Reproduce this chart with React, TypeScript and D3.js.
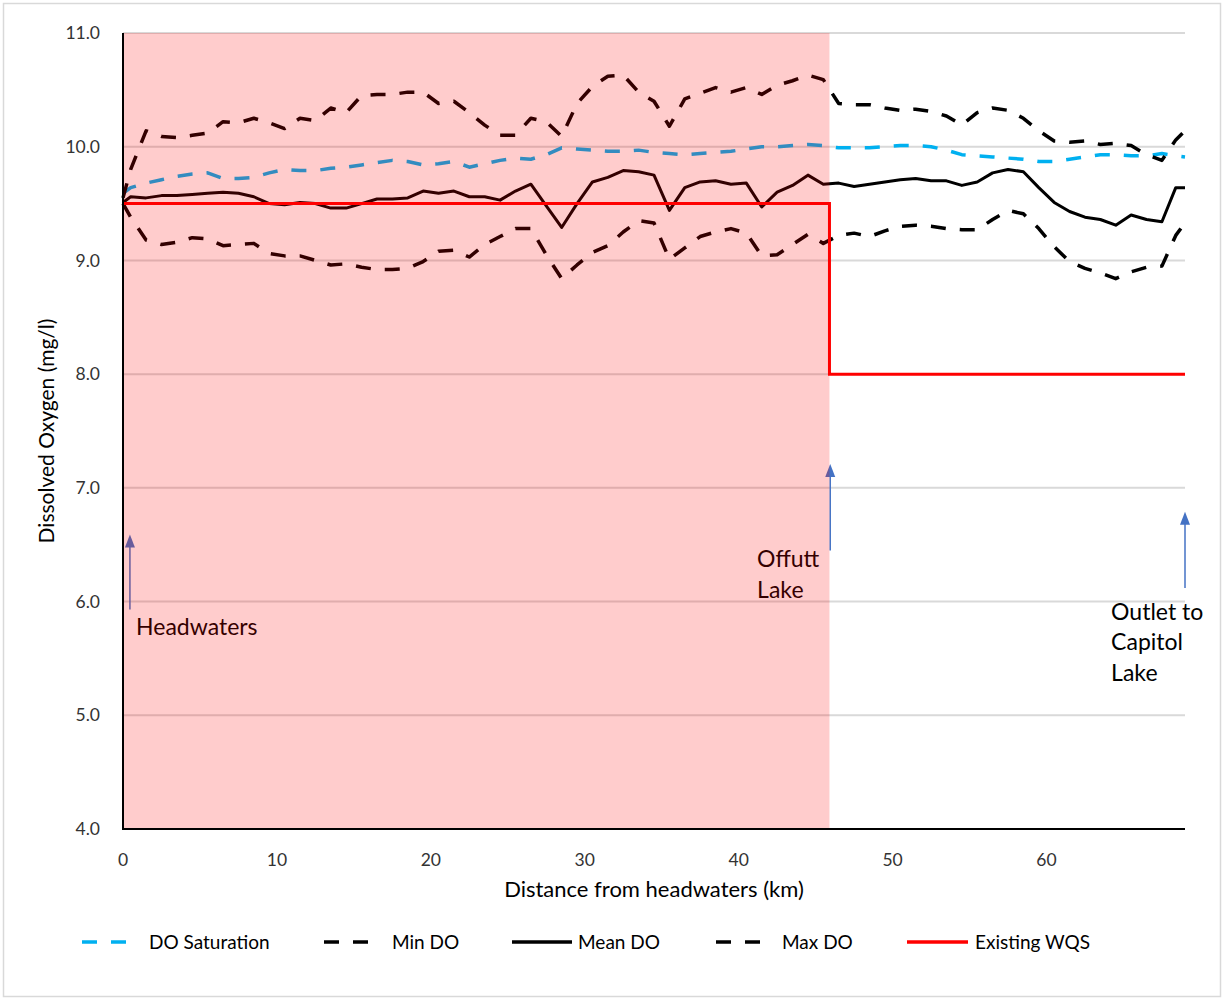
import React from 'react';
import * as d3 from 'd3';

// Distance downstream from the headwaters (km) at each sampling node
const distanceKm = [
  0, 0.5, 1.5, 2.5, 3.5, 4.5, 5.5, 6.5, 7.5, 8.5,
  9.5, 10.5, 11.5, 12.5, 13.5, 14.5, 15.5, 16.5, 17.5, 18.5,
  19.5, 20.5, 21.5, 22.5, 23.5, 24.5, 25.5, 26.5, 27.5, 28.5,
  29.5, 30.5, 31.5, 32.5, 33.5, 34.5, 35.5, 36.5, 37.5, 38.5,
  39.5, 40.5, 41.5, 42.5, 43.5, 44.5, 45.5, 46.5, 47.5, 48.5,
  49.5, 50.5, 51.5, 52.5, 53.5, 54.5, 55.5, 56.5, 57.5, 58.5,
  59.5, 60.5, 61.5, 62.5, 63.5, 64.5, 65.5, 66.5, 67.5,
  68.4, 69,
];

// Dissolved oxygen (mg/l)
const doSaturation = [
  9.59, 9.64, 9.68, 9.71, 9.74, 9.76, 9.77, 9.72, 9.72, 9.73,
  9.77, 9.80, 9.79, 9.79, 9.81, 9.82, 9.84, 9.86, 9.88, 9.87,
  9.84, 9.85, 9.87, 9.82, 9.85, 9.88, 9.90, 9.89, 9.93, 9.99,
  9.98, 9.97, 9.96, 9.96, 9.97, 9.95, 9.94, 9.93, 9.94, 9.95,
  9.96, 9.98, 10.0, 10.0, 10.01, 10.02, 10.01, 9.99, 9.99, 9.99,
  10.0, 10.01, 10.01, 10.0, 9.97, 9.93, 9.92, 9.91, 9.90, 9.89,
  9.87, 9.87, 9.89, 9.91, 9.93, 9.93, 9.92, 9.92, 9.94,
  9.92, 9.91,
];

const minDO = [
  9.50, 9.38, 9.18, 9.14, 9.16, 9.20, 9.19, 9.13, 9.14, 9.15,
  9.06, 9.04, 9.04, 9.00, 8.96, 8.97, 8.94, 8.92, 8.92, 8.93,
  8.99, 9.08, 9.09, 9.03, 9.14, 9.21, 9.28, 9.28, 9.05, 8.84,
  8.96, 9.07, 9.13, 9.25, 9.35, 9.33, 9.01, 9.11, 9.21, 9.25,
  9.28, 9.24, 9.04, 9.05, 9.14, 9.23, 9.15, 9.22, 9.24, 9.21,
  9.26, 9.30, 9.31, 9.30, 9.28, 9.27, 9.27, 9.36, 9.44, 9.41,
  9.28, 9.12, 8.99, 8.93, 8.89, 8.84, 8.90, 8.94, 8.95,
  9.22, 9.33,
];

const meanDO = [
  9.51, 9.56, 9.55, 9.57, 9.57, 9.58, 9.59, 9.60, 9.59, 9.56,
  9.50, 9.49, 9.51, 9.50, 9.46, 9.46, 9.50, 9.54, 9.54, 9.55,
  9.61, 9.59, 9.61, 9.56, 9.56, 9.53, 9.61, 9.67, 9.48, 9.29,
  9.50, 9.69, 9.73, 9.79, 9.78, 9.75, 9.44, 9.64, 9.69, 9.70,
  9.67, 9.68, 9.47, 9.60, 9.66, 9.75, 9.67, 9.68, 9.65, 9.67,
  9.69, 9.71, 9.72, 9.70, 9.70, 9.66, 9.69, 9.77, 9.80, 9.78,
  9.64, 9.51, 9.43, 9.38, 9.36, 9.31, 9.40, 9.36, 9.34,
  9.64, 9.64,
];

const maxDO = [
  9.55, 9.80, 10.14, 10.09, 10.08, 10.10, 10.12, 10.22, 10.21, 10.25,
  10.21, 10.16, 10.25, 10.23, 10.34, 10.30, 10.45, 10.46, 10.46, 10.48,
  10.48, 10.38, 10.40, 10.30, 10.19, 10.10, 10.10, 10.25, 10.22, 10.09,
  10.38, 10.53, 10.62, 10.63, 10.48, 10.40, 10.18, 10.42, 10.47, 10.52,
  10.48, 10.52, 10.46, 10.54, 10.58, 10.63, 10.59, 10.38, 10.37, 10.37,
  10.34, 10.32, 10.33, 10.31, 10.27, 10.19, 10.30, 10.34, 10.32, 10.25,
  10.14, 10.05, 10.04, 10.05, 10.02, 10.03, 10.01, 9.93, 9.88,
  10.06, 10.14,
];

// Existing water quality standard (step at Offutt Lake)
const wqsDistanceKm = [0, 45.9, 45.9, 69];
const wqsValue = [9.5, 9.5, 8.0, 8.0];

const offuttKm = 45.9;
const xMaxKm = 69;
const xTicks = [0, 10, 20, 30, 40, 50, 60];
const yTicks = [4, 5, 6, 7, 8, 9, 10, 11];

// Map annotations: arrow from base to tip (km, mg/l), label lines anchored at (km, mg/l)
const annotations = [
  { lines: ['Headwaters'], arrowKm: 0.45, arrowBase: 5.93, arrowTip: 6.59, textKm: 0.85, textVal: 5.71 },
  { lines: ['Offutt', 'Lake'], arrowKm: 45.95, arrowBase: 6.45, arrowTip: 7.21, textKm: 41.2, textVal: 6.3 },
  { lines: ['Outlet to', 'Capitol', 'Lake'], arrowKm: 69, arrowBase: 6.12, arrowTip: 6.79, textKm: 64.2, textVal: 5.84 },
];

const FONT = "Lato, 'Liberation Sans', Arial, sans-serif";
const W = 1225;
const H = 1000;
const PLOT = { left: 123, right: 1185, top: 33, bottom: 829 };

const DASH = '15 14';

type Series = { name: string; values: number[]; color: string; width: number; dash?: string };

const series: Series[] = [
  { name: 'DO Saturation', values: doSaturation, color: '#00b0f0', width: 3.5, dash: DASH },
  { name: 'Min DO', values: minDO, color: '#000000', width: 3.5, dash: DASH },
  { name: 'Mean DO', values: meanDO, color: '#000000', width: 3 },
  { name: 'Max DO', values: maxDO, color: '#000000', width: 3.5, dash: DASH },
];

const legendItems = [
  { name: 'DO Saturation', color: '#00b0f0', width: 3.5, dash: DASH, x0: 82, x1: 126, tx: 149 },
  { name: 'Min DO', color: '#000000', width: 3.5, dash: DASH, x0: 324, x1: 368, tx: 392 },
  { name: 'Mean DO', color: '#000000', width: 3.5, dash: undefined, x0: 512, x1: 572, tx: 578 },
  { name: 'Max DO', color: '#000000', width: 3.5, dash: DASH, x0: 716, x1: 760, tx: 782 },
  { name: 'Existing WQS', color: '#ff0000', width: 3.5, dash: undefined, x0: 907, x1: 968, tx: 975 },
];

export default function App() {
  const x = d3.scaleLinear().domain([0, xMaxKm]).range([PLOT.left, PLOT.right]);
  const y = d3.scaleLinear().domain([4, 11]).range([PLOT.bottom, PLOT.top]);

  const seriesLine = d3
    .line<number>()
    .x((_, i) => x(distanceKm[i]))
    .y((d) => y(d));

  const wqsLine = d3
    .line<number>()
    .x((_, i) => x(wqsDistanceKm[i]))
    .y((d) => y(d));

  const legendY = 942;

  return (
    <div style={{ position: 'absolute', left: 0, top: 0 }}>
      <svg width={W} height={H} style={{ display: 'block', background: '#ffffff' }}>
        {/* chart frame */}
        <rect x={3.5} y={3.5} width={1217} height={993} fill="#ffffff" stroke="#d9d9d9" strokeWidth={1.5} />

        {/* horizontal gridlines */}
        {yTicks.slice(1).map((t) => (
          <line key={t} x1={PLOT.left} x2={PLOT.right} y1={y(t)} y2={y(t)} stroke="#d9d9d9" strokeWidth={2} />
        ))}

        {/* annotations */}
        {annotations.map((a) => {
          const ax = x(a.arrowKm);
          const tipY = y(a.arrowTip);
          const baseY = y(a.arrowBase);
          return (
            <g key={a.lines.join(' ')}>
              <line x1={ax} x2={ax} y1={baseY} y2={tipY + 10} stroke="#4472c4" strokeWidth={1.5} />
              <path
                d={`M${ax},${tipY} L${ax - 5},${tipY + 13} L${ax + 5},${tipY + 13} Z`}
                fill="#4472c4"
              />
              {a.lines.map((ln, i) => (
                <text
                  key={ln}
                  x={x(a.textKm)}
                  y={y(a.textVal) + i * 30.5}
                  fontFamily={FONT}
                  fontSize={23}
                  fill="#000000"
                >
                  {ln}
                </text>
              ))}
            </g>
          );
        })}

        {/* data series */}
        {series.map((s) => (
          <path
            key={s.name}
            d={seriesLine(s.values) || ''}
            fill="none"
            stroke={s.color}
            strokeWidth={s.width}
            strokeDasharray={s.dash}
            strokeLinejoin="round"
          />
        ))}

        {/* existing WQS */}
        <path d={wqsLine(wqsValue) || ''} fill="none" stroke="#ff0000" strokeWidth={3} />

        {/* shaded reach above Offutt Lake */}
        <rect
          x={x(0)}
          y={PLOT.top}
          width={x(offuttKm) - x(0)}
          height={PLOT.bottom - PLOT.top}
          fill="#ff0000"
          fillOpacity={0.2}
        />

        {/* axes */}
        <line x1={PLOT.left} x2={PLOT.left} y1={PLOT.top} y2={PLOT.bottom + 1} stroke="#000000" strokeWidth={2} />
        <line x1={PLOT.left - 1} x2={PLOT.right} y1={PLOT.bottom} y2={PLOT.bottom} stroke="#000000" strokeWidth={2} />

        {/* y tick labels */}
        {yTicks.map((t) => (
          <text
            key={t}
            x={PLOT.left - 23}
            y={y(t)}
            dy="0.35em"
            textAnchor="end"
            fontFamily={FONT}
            fontSize={17.5}
            fill="#333333"
          >
            {t.toFixed(1)}
          </text>
        ))}

        {/* x tick labels */}
        {xTicks.map((t) => (
          <text
            key={t}
            x={x(t)}
            y={866}
            textAnchor="middle"
            fontFamily={FONT}
            fontSize={17.5}
            fill="#333333"
          >
            {t}
          </text>
        ))}

        {/* axis titles */}
        <text
          x={(PLOT.left + PLOT.right) / 2}
          y={897}
          textAnchor="middle"
          fontFamily={FONT}
          fontSize={22}
          fill="#000000"
        >
          Distance from headwaters (km)
        </text>
        <text
          transform={`translate(54, ${(PLOT.top + PLOT.bottom) / 2}) rotate(-90)`}
          textAnchor="middle"
          fontFamily={FONT}
          fontSize={21}
          fill="#000000"
        >
          Dissolved Oxygen (mg/l)
        </text>

        {/* legend */}
        {legendItems.map((it) => (
          <g key={it.name}>
            <line
              x1={it.x0}
              x2={it.x1}
              y1={legendY}
              y2={legendY}
              stroke={it.color}
              strokeWidth={it.width}
              strokeDasharray={it.dash}
            />
            <text x={it.tx} y={legendY} dy="0.35em" fontFamily={FONT} fontSize={19} fill="#000000">
              {it.name}
            </text>
          </g>
        ))}
      </svg>
    </div>
  );
}
